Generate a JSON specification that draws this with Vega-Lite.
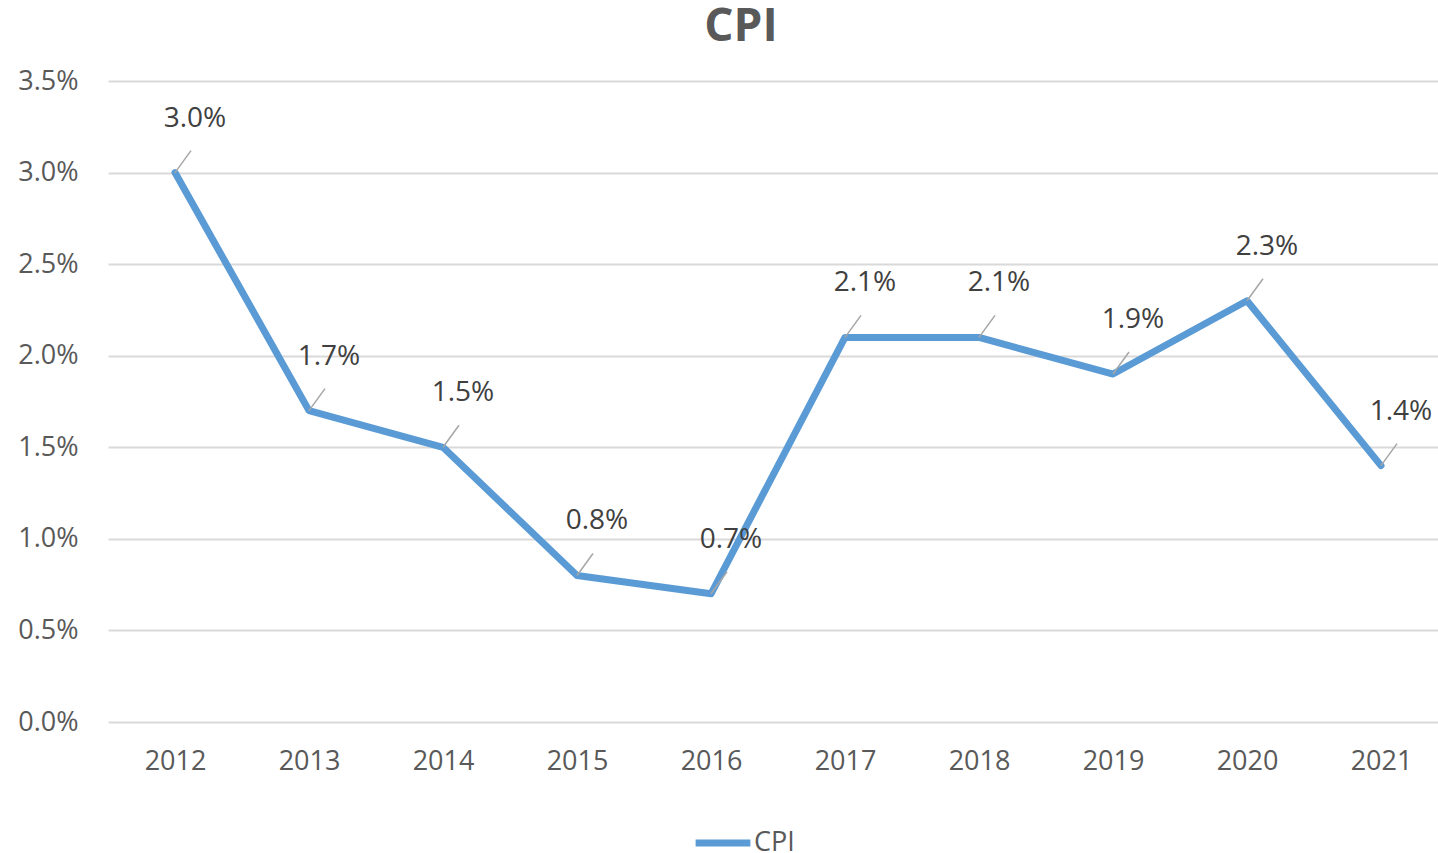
{
  "$schema": "https://vega.github.io/schema/vega-lite/v6.json",
  "autosize": {"type": "none"},
  "width": 1340,
  "height": 641,
  "padding": {"left": 108, "top": 81, "right": -10, "bottom": 131},
  "background": "white",
  "config": {
    "view": {"stroke": null},
    "font": "Open Sans"
  },
  "title": {
    "text": "CPI",
    "fontSize": 46,
    "fontWeight": "bold",
    "color": "#595959",
    "font": "Open Sans",
    "anchor": "middle",
    "frame": "group",
    "dx": -37,
    "dy": 54,
    "baseline": "bottom",
    "offset": 24
  },
  "data": {
    "values": [
      {"year": "2012", "cpi": 0.030},
      {"year": "2013", "cpi": 0.017},
      {"year": "2014", "cpi": 0.015},
      {"year": "2015", "cpi": 0.008},
      {"year": "2016", "cpi": 0.007},
      {"year": "2017", "cpi": 0.021},
      {"year": "2018", "cpi": 0.021},
      {"year": "2019", "cpi": 0.019},
      {"year": "2020", "cpi": 0.023},
      {"year": "2021", "cpi": 0.014}
    ]
  },
  "encoding": {
    "x": {
      "field": "year",
      "type": "ordinal",
      "scale": {"type": "point", "padding": 0.5},
      "axis": {
        "title": null,
        "labelAngle": 0,
        "labelFontSize": 27,
        "labelColor": "#595959",
        "labelPadding": 26,
        "domain": false,
        "ticks": false,
        "grid": false
      }
    },
    "y": {
      "field": "cpi",
      "type": "quantitative",
      "scale": {"domain": [0, 0.035], "nice": false},
      "axis": {
        "title": null,
        "values": [0, 0.005, 0.01, 0.015, 0.02, 0.025, 0.03, 0.035],
        "format": ".1%",
        "labelFontSize": 27,
        "labelColor": "#595959",
        "labelPadding": 30,
        "domain": false,
        "ticks": false,
        "gridColor": "#D9D9D9",
        "gridWidth": 2
      }
    }
  },
  "layer": [
    {
      "mark": {"type": "line", "strokeWidth": 7, "strokeCap": "round", "strokeJoin": "round"},
      "encoding": {
        "color": {
          "datum": "CPI",
          "scale": {"range": ["#5B9BD5"]},
          "legend": {
            "title": null,
            "orient": "none",
            "legendX": 584,
            "legendY": 731,
            "symbolType": "stroke",
            "symbolSize": 3000,
            "symbolStrokeWidth": 7,
            "labelFontSize": 27,
            "labelColor": "#595959",
            "labelOffset": 0
          }
        }
      }
    },
    {
      "mark": {"type": "rule", "color": "#A6A6A6", "strokeWidth": 1.5, "x2Offset": 16, "y2Offset": -22},
      "encoding": {
        "x2": {"field": "year"},
        "y2": {"field": "cpi"}
      }
    },
    {
      "mark": {"type": "text", "fontSize": 28, "color": "#404040", "dx": 20, "dy": -40, "baseline": "bottom"},
      "encoding": {
        "text": {"field": "cpi", "type": "quantitative", "format": ".1%"}
      }
    }
  ]
}
